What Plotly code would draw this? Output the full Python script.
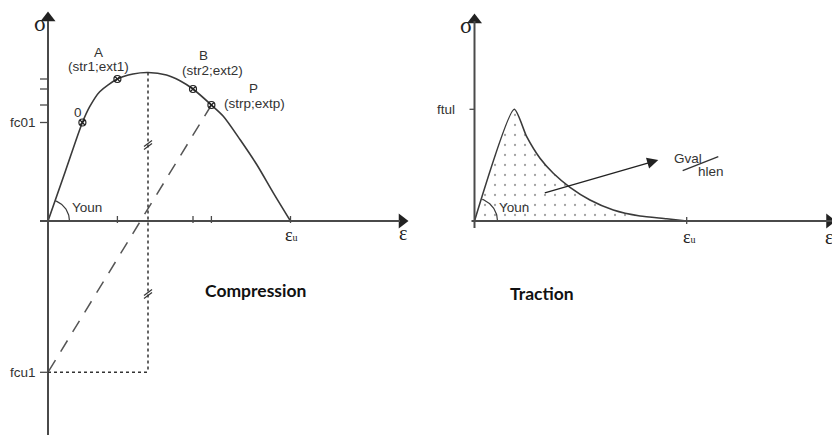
import numpy as np
import plotly.graph_objects as go

# ---------------- data (offsets from each origin) ----------------
# Compression panel
comp_eps = [0, 17.2, 34.4, 41.7, 51.7, 69.4, 85.0, 100.0, 118.5, 132.0, 145.0, 163.4, 175.3, 192.0, 208.7, 225.3, 242.5]
comp_sig = [0, 49.2, 98.5, 114.3, 129.3, 142.0, 147.0, 148.5, 146.0, 140.3, 132.0, 116.0, 104.8, 81.5, 56.5, 28.2, 0]
pt_names = ["0", "A", "B", "P"]
pt_coords = ["", "(str1;ext1)", "(str2;ext2)", "(strp;extp)"]
pt_eps = [34.4, 69.4, 145.0, 163.4]
pt_sig = [98.5, 142.0, 132.0, 116.0]
peak_eps = 100.0
peak_sig = 148.5
comp_eps_u = 242.5
fc01 = 98.5
fcu1 = -151.3

# Traction panel
trac_eps = [0, 39.8, 52.2, 65.5, 78.8, 95.5, 115.5, 138.8, 165.5, 192.2, 212.2]
trac_sig = [0, 111.7, 84.3, 62.7, 47.7, 33.7, 21.0, 11.0, 5.0, 2.3, 0]
ftul = 111.7
trac_eps_u = 212.2
gval_eps = [68.8, 183.8]
gval_sig = [27.7, 61.0]

INK = "#3a3a3a"
AX = "#4a4a4a"
SANS = "Liberation Sans, Arial, sans-serif"
SERIF = "Liberation Serif, Times New Roman, serif"
TITLE = "Lato, Open Sans, sans-serif"

fig = go.Figure()

# ---------------- helpers ----------------
def line(x0, y0, x1, y1, xref="x", width=1.5, color=INK, dash=None):
    fig.add_shape(type="line", x0=x0, y0=y0, x1=x1, y1=y1, xref=xref, yref="y",
                  line=dict(color=color, width=width, dash=dash), layer="above")

def text(x, y, s, xref="x", size=13.5, font=SANS, color="#333", xanchor="center", bold=False):
    if bold:
        s = "<b>" + s + "</b>"
    fig.add_annotation(x=x, y=y, xref=xref, yref="y", text=s, showarrow=False,
                       font=dict(size=size, family=font, color=color), xanchor=xanchor,
                       yanchor="middle")

EPSU = "ε<span style='font-size:10px'>u</span>"

# ================= Compression =================
line(0, -214, 0, 200, width=2, color=AX)
line(-8, 0, 352, 0, width=2, color=AX)
fig.add_trace(go.Scatter(x=[0], y=[203], mode="markers", xaxis="x", yaxis="y",
                         marker=dict(symbol="triangle-up", size=13, color="#222"), showlegend=False))
fig.add_trace(go.Scatter(x=[354], y=[0], mode="markers", xaxis="x", yaxis="y",
                         marker=dict(symbol="triangle-right", size=13, color="#222"), showlegend=False))

# dotted construction lines
line(peak_eps, peak_sig, peak_eps, fcu1, width=1.5, color="#333", dash="dot")
line(0, fcu1, peak_eps, fcu1, width=1.5, color="#333", dash="dot")
# dashed unloading line
fig.add_trace(go.Scatter(x=[pt_eps[3], 0], y=[pt_sig[3], fcu1], mode="lines", xaxis="x", yaxis="y",
                         line=dict(color="#555", width=1.5, dash="13px,10px"), showlegend=False))
# break marks on the dotted line
for yb in [76, -73]:
    for off in [-1.5, 1.5]:
        line(peak_eps - 4, yb - 3 + off, peak_eps + 4, yb + 3 + off, width=1.2, color="#333")

# curve
fig.add_trace(go.Scatter(x=comp_eps, y=comp_sig, mode="lines", xaxis="x", yaxis="y",
                         line=dict(color=INK, width=1.6, shape="spline", smoothing=0.8),
                         showlegend=False))
fig.add_trace(go.Scatter(x=pt_eps, y=pt_sig, mode="markers", xaxis="x", yaxis="y",
                         marker=dict(symbol="circle-x-open", size=7, color="#222",
                                     line=dict(width=1.2)), showlegend=False))

for s in pt_sig[1:] + [fc01, fcu1]:
    line(-8, s, 0, s, width=1.3, color=AX)
for e in pt_eps[1:] + [comp_eps_u]:
    line(e, -2, e, 5, width=1.3, color=AX)

ang = np.linspace(0, np.arctan2(pt_sig[0], pt_eps[0]), 30)
fig.add_trace(go.Scatter(x=21.5 * np.cos(ang), y=21.5 * np.sin(ang), mode="lines", xaxis="x", yaxis="y",
                         line=dict(color=INK, width=1.2), showlegend=False))

text(-8, 198, "σ", size=23, font=SERIF, color="#222")
text(355, -12, "ε", size=20, font=SERIF, color="#222")
text(comp_eps_u + 1, -14, EPSU, size=18, font=SERIF, color="#222")
text(50, 169, "A")
text(50, 155, "(str1;ext1)")
text(155, 166, "B")
text(164, 151, "(str2;ext2)")
text(205, 133, "P")
text(206, 118, "(strp;extp)")
text(30, 109, "0")
text(-10, fc01, "fc01", xanchor="right")
text(-10, fcu1, "fcu1", xanchor="right")
text(39, 14, "Youn")
text(207, -69, "Compression", size=17.5, font=TITLE, color="#111", bold=True)

# ================= Traction =================
fig.add_trace(go.Scatter(x=trac_eps, y=trac_sig, mode="lines", xaxis="x2", yaxis="y",
                         fill="toself", fillcolor="rgba(255,255,255,0)",
                         fillpattern=dict(shape=".", size=10, solidity=0.04, fgcolor="#444"),
                         line=dict(color=INK, width=1.6, shape="spline", smoothing=0.6),
                         showlegend=False))
line(0, -7, 0, 200, xref="x2", width=2, color=AX)
line(-3, 0, 360, 0, xref="x2", width=2, color=AX)
fig.add_trace(go.Scatter(x=[0], y=[201], mode="markers", xaxis="x2", yaxis="y",
                         marker=dict(symbol="triangle-up", size=13, color="#222"), showlegend=False))
fig.add_trace(go.Scatter(x=[355], y=[0], mode="markers", xaxis="x2", yaxis="y",
                         marker=dict(symbol="triangle-right", size=13, color="#222"), showlegend=False))
line(-5, ftul, 0, ftul, xref="x2", width=1.3, color=AX)
line(trac_eps_u, -3, trac_eps_u, 4, xref="x2", width=1.3, color=AX)

ang = np.linspace(0, np.arctan2(trac_sig[1], trac_eps[1]), 30)
fig.add_trace(go.Scatter(x=23 * np.cos(ang), y=23 * np.sin(ang), mode="lines", xaxis="x2", yaxis="y",
                         line=dict(color=INK, width=1.2), showlegend=False))

fig.add_annotation(x=gval_eps[1], y=gval_sig[1], ax=gval_eps[0], ay=gval_sig[0],
                   xref="x2", yref="y", axref="x2", ayref="y", text="", showarrow=True,
                   arrowhead=2, arrowsize=1.6, arrowwidth=1.4, arrowcolor="#222")
line(208.2, 50.3, 243.8, 64.3, xref="x2", width=1.3, color="#333")
text(-17.5, ftul, "ftul", xref="x2", xanchor="right")
text(trac_eps_u + 3, -16, EPSU, xref="x2", size=18, font=SERIF, color="#222")
text(354, -16, "ε", xref="x2", size=20, font=SERIF, color="#222")
text(-7.8, 196, "σ", xref="x2", size=23, font=SERIF, color="#222")
text(39, 14, "Youn", xref="x2")
text(213, 63, "Gval", xref="x2")
text(236, 50, "hlen", xref="x2")
text(67, -72, "Traction", xref="x2", size=17.5, font=TITLE, color="#111", bold=True)

fig.update_layout(
    width=832, height=437, margin=dict(l=0, r=0, t=0, b=0),
    paper_bgcolor="white", plot_bgcolor="white", showlegend=False,
    xaxis=dict(range=[-48, 784], visible=False, domain=[0, 1], fixedrange=True),
    xaxis2=dict(range=[-474.5, 357.5], visible=False, overlaying="x", anchor="y", fixedrange=True),
    yaxis=dict(range=[-216, 221], visible=False, fixedrange=True),
)

fig.write_html("out.html", config={"displayModeBar": False},
               post_script="document.body.style.margin='0';")
